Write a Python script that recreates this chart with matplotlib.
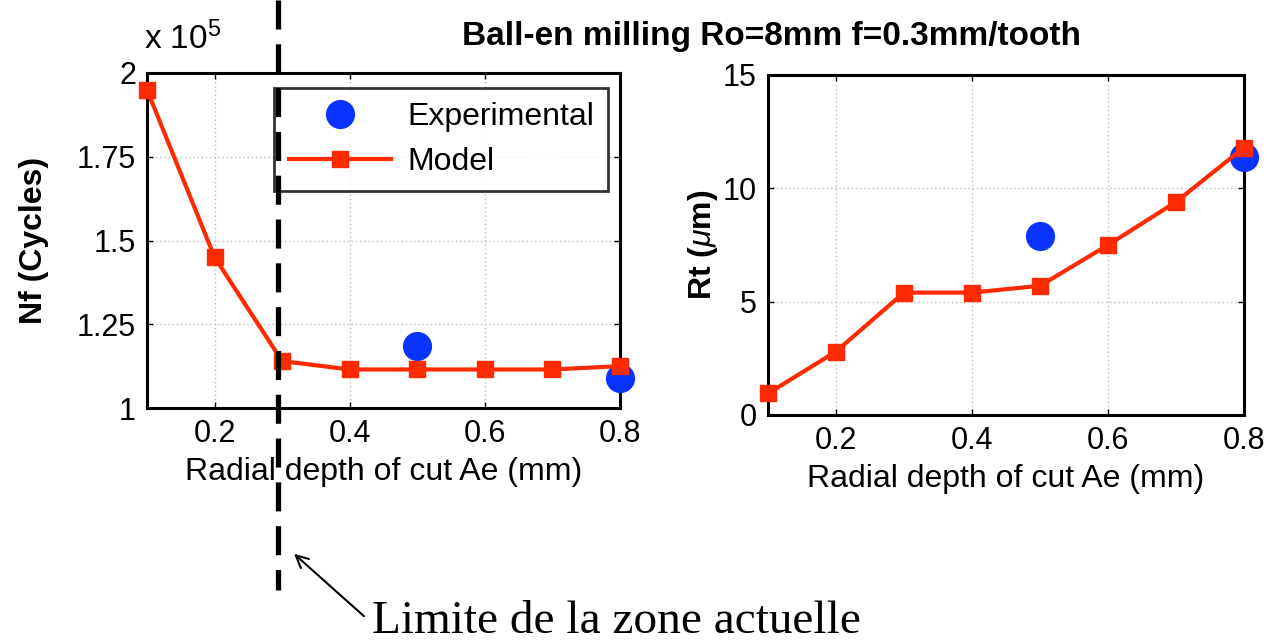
import matplotlib
matplotlib.use("Agg")
import matplotlib.pyplot as plt

ae = [0.1, 0.2, 0.3, 0.4, 0.5, 0.6, 0.7, 0.8]
nf_model = [1.95, 1.45, 1.14, 1.115, 1.115, 1.115, 1.115, 1.125]  # x 1e5
exp_ae = [0.5, 0.8]
nf_exp = [1.185, 1.09]
rt_model = [0.95, 2.8, 5.4, 5.4, 5.7, 7.5, 9.4, 11.8]
rt_exp = [7.9, 11.4]

nf_ticks = [1, 1.25, 1.5, 1.75, 2]
nf_ticklabels = ["1", "1.25", "1.5", "1.75", "2"]
rt_ticks = [0, 5, 10, 15]
x_ticks = [0.2, 0.4, 0.6, 0.8]

plt.rcParams['font.family'] = ['Liberation Sans', 'DejaVu Sans']
plt.rcParams['mathtext.fontset'] = 'custom'
plt.rcParams['mathtext.rm'] = 'Liberation Sans'
plt.rcParams['mathtext.it'] = 'Liberation Sans:italic'
plt.rcParams['mathtext.bf'] = 'Liberation Sans:bold'
RED = '#ff2a00'
BLUE = '#0a33ff'
FS_TICK = 22
FS_LAB = 23

fig = plt.figure(figsize=(12.68, 6.41), dpi=100)
W, H = 1268, 641

def ax_at(x0, y0, x1, y1):
    return fig.add_axes([x0 / W, 1 - y1 / H, (x1 - x0) / W, (y1 - y0) / H])

ax1 = ax_at(147, 73, 620, 408)
ax2 = ax_at(768, 75, 1244, 415)

for ax in (ax1, ax2):
    ax.grid(True, linestyle=(0, (1, 2)), color='#bbbbbb', linewidth=1)
    ax.set_xlim(0.1, 0.8)
    ax.set_xticks(x_ticks)
    ax.set_xticklabels([f"{v:.1f}" for v in x_ticks])
    ax.tick_params(direction='in', labelsize=FS_TICK, length=4, width=1, top=True, right=True, pad=8)
    for s in ax.spines.values():
        s.set_linewidth(2.2)
    ax.set_xlabel("Radial depth of cut Ae (mm)", fontsize=FS_LAB, labelpad=6)

ax1.plot(exp_ae, nf_exp, 'o', color=BLUE, markersize=20, label='Experimental', zorder=3, clip_on=False)
ax1.plot(ae, nf_model, '-s', color=RED, linewidth=3, markersize=11, label='Model', zorder=4, clip_on=False)
ax1.set_ylim(1, 2)
ax1.set_yticks(nf_ticks)
ax1.set_yticklabels(nf_ticklabels)
ax1.set_ylabel("Nf (Cycles)", fontsize=FS_LAB, fontweight='bold', labelpad=20)
ax1.text(-0.006, 1.05, r"x 10$^{5}$", transform=ax1.transAxes, fontsize=24, ha='left', va='bottom')

leg = ax1.legend(loc='upper right', bbox_to_anchor=(0.975, 0.955), fontsize=FS_LAB, frameon=True,
                 fancybox=False, edgecolor='black', markerscale=1.0, handlelength=3.2,
                 borderpad=0.45, labelspacing=0.45, handletextpad=0.5, borderaxespad=0.0)
leg.get_frame().set_linewidth(2)
leg.set_zorder(5)

ax2.plot(exp_ae, rt_exp, 'o', color=BLUE, markersize=20, zorder=3, clip_on=False)
ax2.plot(ae, rt_model, '-s', color=RED, linewidth=3, markersize=11, zorder=4, clip_on=False)
ax2.set_ylim(0, 15)
ax2.set_yticks(rt_ticks)
ax2.set_ylabel(r"Rt ($\mu$m)", fontsize=FS_LAB, fontweight='bold', labelpad=2)

fig.text(772 / W, 1 - 37 / H, "Ball-en milling Ro=8mm f=0.3mm/tooth", fontsize=24,
         fontweight='bold', ha='center', va='center')

# dashed limit line and annotation
xl = 278 / W
fig.add_artist(matplotlib.lines.Line2D([xl, xl], [1.0, 1 - 590 / H], color='black',
                                       linewidth=3.8, linestyle=(0, (5.5, 2.8)), zorder=10))
fig.text(372 / W, 1 - 622 / H, "Limite de la zone actuelle", fontsize=34,
         family=['Liberation Serif', 'DejaVu Serif'], ha='left', va='center')
ax1.annotate("", xy=(292 / W, 1 - 552 / H), xycoords='figure fraction',
             xytext=(366 / W, 1 - 618 / H), textcoords='figure fraction',
             arrowprops=dict(arrowstyle='->', color='black', lw=1.5, mutation_scale=22))

fig.savefig("out.png", dpi=100)
